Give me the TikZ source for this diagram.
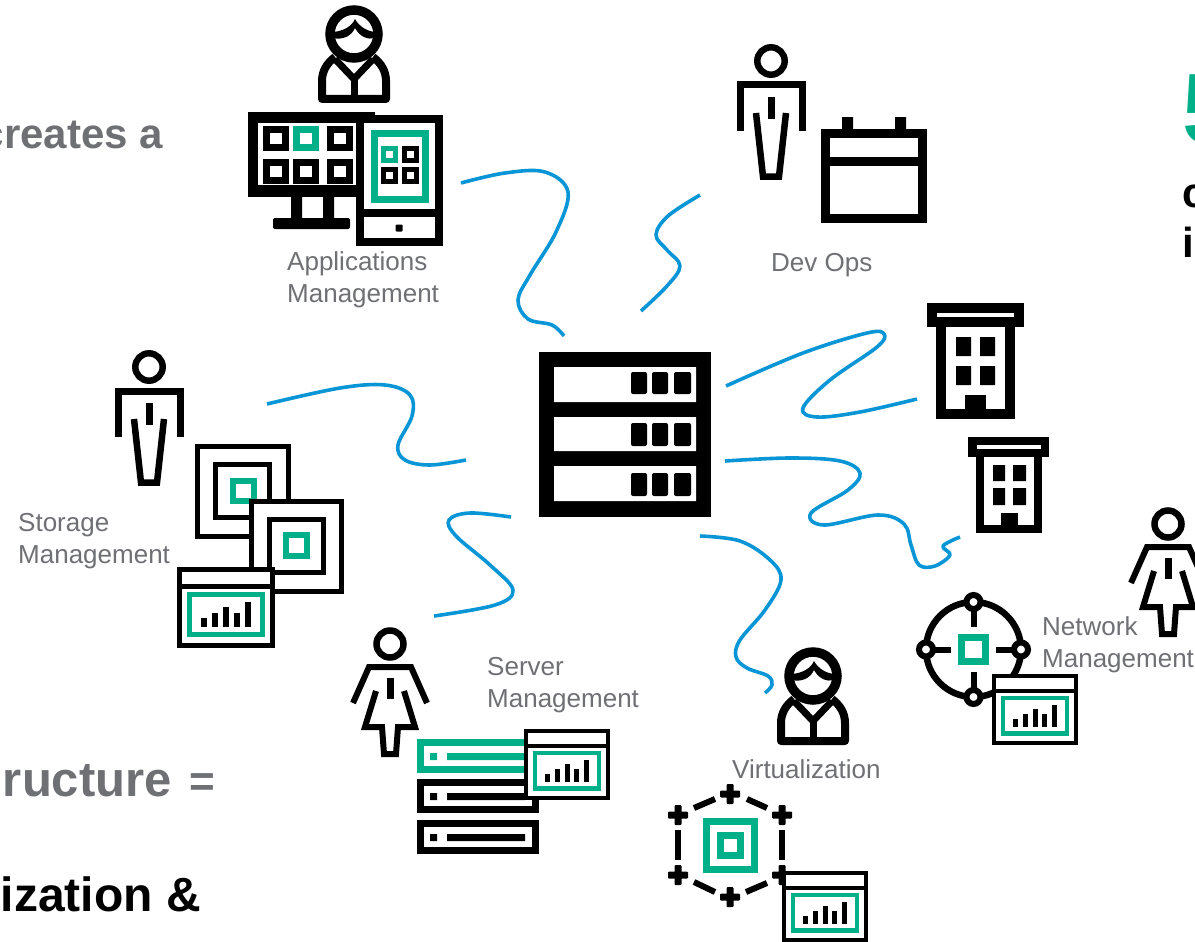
\documentclass[tikz,border=0pt]{standalone}
\usepackage{fontspec}
\setmainfont{Liberation Sans}
\definecolor{hpegreen}{HTML}{01B088}
\definecolor{wireblue}{HTML}{0A96D6}
\definecolor{labelgray}{HTML}{6F7074}
\tikzset{
  ink/.style={draw=black,line width=#1},
  ink/.default=7pt,
  gink/.style={draw=hpegreen,line width=#1},
  gink/.default=7pt,
  wire/.style={draw=wireblue,line width=3.6pt,line cap=butt,line join=round},
  lbl/.style={anchor=base west,inner sep=0pt,text=labelgray,align=left,font=\fontsize{26}{32}\selectfont},
  headg/.style={inner sep=0pt,text=labelgray,font=\fontsize{42}{49}\selectfont\bfseries},
  headk/.style={inner sep=0pt,text=black,font=\fontsize{42}{49}\selectfont\bfseries},
}
\newcommand{\manicon}[2]{\begin{scope}[shift={(#1,#2)}]
  \draw[ink=6.5pt] (0,0) circle (13.7);
  \draw[ink] (-31,70) -- (-31,24) -- (31,24) -- (31,70);
  \fill (-3.5,36) rectangle (3.5,58);
  \draw[ink=6.5pt,line join=miter] (-15,52) -- (-8,115.5) -- (8,115.5) -- (15,52);
\end{scope}}
\newcommand{\womanicon}[2]{\begin{scope}[shift={(#1,#2)}]
  \draw[ink=6.5pt] (0,0) circle (13.5);
  \draw[ink=6pt,line join=miter] (-37,59) -- (-21,23) -- (21,23) -- (37,59);
  \fill (-3.5,34) rectangle (3.5,55);
  \draw[ink=6pt,line join=miter] (-14,47) -- (-25,83) -- (-8,83) -- (-6,110) -- (6,110) -- (8,83) -- (25,83) -- (14,47);
\end{scope}}
\newcommand{\avataricon}[2]{\begin{scope}[shift={(#1,#2)}]
  \draw[ink=9.5pt] (0,0) circle (24);
  \fill (-21,-2) .. controls (-10,-3) and (-2,-8) .. (1,-15) .. controls (5,-8) and (12,-3) .. (21,-2)
        -- (21,4) .. controls (14,6) and (6,3) .. (1,-6) .. controls (-3,3) and (-12,6) .. (-21,4) -- cycle;
  \draw[ink=8pt,line join=round] (-19,23) .. controls (-27,29) and (-32,37) .. (-32,47) -- (-32,65) -- (32,65) -- (32,47) .. controls (32,37) and (27,29) .. (19,23);
  \draw[ink=7pt] (-19,25) -- (0,45) -- (19,25);
  \draw[ink=7pt] (0,45) -- (0,65);
\end{scope}}
\newcommand{\windowicon}[3]{\begin{scope}[shift={(#1,#2)},scale=#3]
  \draw[ink=#3*5pt,fill=white] (2.5,2.5) rectangle (95.5,78.5);
  \draw[ink=#3*5pt] (0,19) -- (98,19);
  \draw[gink=#3*5pt] (12.5,27.5) rectangle (85.5,67.5);
  \fill (24.2,51.3) rectangle (29.8,59.7);
  \fill (35.2,45.7) rectangle (40.8,59.7);
  \fill (46.2,40.3) rectangle (51.8,59.7);
  \fill (57.2,45.7) rectangle (62.8,59.7);
  \fill (68.2,35.3) rectangle (73.8,59.7);
\end{scope}}
\newcommand{\plusmark}[2]{\fill[rounded corners=1pt] (#1-10,#2-3.5) rectangle (#1+10,#2+3.5); \fill[rounded corners=1pt] (#1-3.5,#2-10) rectangle (#1+3.5,#2+10);}
\newcommand{\sq}[3]{\draw[#3] (#1,#2) rectangle ++(18.5,18);}
\begin{document}
\begin{tikzpicture}[x=1pt,y=-1pt]
\useasboundingbox (0,0) rectangle (1195,942);
\clip (0,0) rectangle (1195,942);
\fill[white] (0,0) rectangle (1195,942);

% ---------- connectors ----------
\coordinate (a0) at (461,183); \coordinate (a1) at (564,336);
\coordinate (d0) at (700,195); \coordinate (d1) at (641,311);
\coordinate (b0) at (726,386); \coordinate (b1) at (917,399);
\coordinate (c0) at (725,461); \coordinate (c1) at (960,537);
\coordinate (s0) at (267,404); \coordinate (s1) at (466,460);
\coordinate (v0) at (511,517); \coordinate (v1) at (434,616);
\coordinate (z0) at (700,536); \coordinate (z1) at (765,693);
\draw[wire] plot[smooth,tension=.6] coordinates {(a0) (505,173) (545,172) (568,192) (556,232) (530,275) (518,300) (528,319) (552,325) (a1)};
\draw[wire] plot[smooth,tension=.6] coordinates {(d0) (668,216) (656,235) (667,250) (680,266) (667,286) (d1)};
\draw[wire] plot[smooth,tension=.6] coordinates {(b0) (803,353) (867,333) (884,334) (877,347) (830,380) (803,408) (817,417) (860,412) (b1)};
\draw[wire] plot[smooth,tension=.6] coordinates {(c0) (790,458) (840,461) (860,473) (848,490) (811,513) (824,525) (878,515) (904,524) (911,545) (919,565) (935,566) (950,555) (943,546) (c1)};
\draw[wire] plot[smooth,tension=.6] coordinates {(s0) (340,388) (385,385) (410,395) (412,416) (398,445) (405,460) (430,465) (s1)};
\draw[wire] plot[smooth,tension=.6] coordinates {(v0) (470,513) (449,520) (456,536) (490,565) (513,590) (495,605) (v1)};
\draw[wire] plot[smooth,tension=.6] coordinates {(z0) (740,541) (770,560) (781,580) (765,610) (740,640) (736,657) (747,668) (768,676) (772,685) (z1)};

% ---------- central rack ----------
\node[fill=black,minimum width=172pt,minimum height=165pt,inner sep=0pt] (rack) at (625,434.5) {};
\fill[white] (554,367) rectangle (696,402) (554,417) rectangle (696,451) (554,466) rectangle (696,501);
\foreach \ya/\yb in {372/394,423/446,473/496}{
  \fill[rounded corners=2pt] (631,\ya) rectangle (647,\yb);
  \fill[rounded corners=2pt] (652,\ya) rectangle (668,\yb);
  \fill[rounded corners=2pt] (674,\ya) rectangle (691,\yb);
}

% ---------- applications ----------
\avataricon{354}{34}
\fill (248,112) rectangle (375,197);
\fill[white] (258,123) rectangle (356,185);
\sq{266.5}{129.5}{ink}
\sq{296.5}{129.5}{gink}
\sq{330.5}{129.5}{ink}
\sq{266.5}{162.5}{ink}
\sq{296.5}{162.5}{ink}
\sq{330.5}{162.5}{ink}
\fill (291,197) rectangle (302,218) (323,197) rectangle (334,218);
\fill[rounded corners=2pt] (273,218) rectangle (350,229);
\draw[ink=8pt,fill=white] (360,119) rectangle (439,242);
\draw[ink=8pt] (356,213) -- (443,213);
\draw[gink] (374.5,133.5) rectangle (425.5,199.5);
\draw[gink=5pt] (383.5,148.5) rectangle (395.5,160.5);
\draw[ink=5pt] (404.5,148.5) rectangle (416.5,160.5);
\draw[ink=5pt] (383.5,169.5) rectangle (395.5,181.5);
\draw[ink=5pt] (404.5,169.5) rectangle (416.5,181.5);
\fill[rounded corners=1pt] (395.5,224.5) rectangle (402.5,231.5);
\node[lbl] (lApps) at (287,302) {Applications\\Management};

% ---------- dev ops ----------
\manicon{771}{61}
\draw[ink=9pt] (825.5,133.5) rectangle (922.5,218.5);
\draw[ink=9pt] (821,161.5) -- (927,161.5);
\fill (842,117) rectangle (853,129) (895,117) rectangle (906,129);
\node[lbl] (lDev) at (771,271) {Dev Ops};

% ---------- buildings ----------
\fill (927,303) rectangle (1024,327);
\fill[white] (937,313) rectangle (1014,317);
\draw[ink=10pt] (941,327) -- (941,414) -- (1010,414) -- (1010,327);
\fill (956,337) rectangle (971,356) (980,337) rectangle (995,356);
\fill (956,366) rectangle (971,385) (980,366) rectangle (995,385);
\fill (965,395) rectangle (986,409);
\fill (968,437) rectangle (1049,457);
\fill[white] (977,445) rectangle (1041,449);
\draw[ink=8pt] (980,457) -- (980,529) -- (1038,529) -- (1038,457);
\fill (993,465) rectangle (1005,481) (1013,465) rectangle (1026,481);
\fill (993,488) rectangle (1005,505) (1013,488) rectangle (1026,505);
\fill (1001,513) rectangle (1018,525);

% ---------- storage ----------
\manicon{149}{367}
\draw[ink=5.5pt] (197.5,446.5) rectangle (288.5,536.5);
\draw[ink=5.5pt] (215.5,464.5) rectangle (269.5,517.5);
\draw[gink=6pt] (233,481) rectangle (254,501);
\draw[ink=5.5pt,fill=white] (251.5,501.5) rectangle (341.5,591.5);
\draw[ink=5.5pt] (269.5,519.5) rectangle (323.5,572.5);
\draw[gink=6pt] (286,535) rectangle (307,556);
\windowicon{177}{567}{1}
\node[lbl] (lStorage) at (18,563) {Storage\\Management};

% ---------- server ----------
\womanicon{390}{644}
\draw[gink] (420.5,742.5) rectangle (535.5,769.5);
\draw[ink] (420.5,782.5) rectangle (535.5,809.5);
\draw[ink] (420.5,823.5) rectangle (535.5,850.5);
\fill[hpegreen] (430,753) rectangle (437,760) (447,753) rectangle (525,760);
\fill (430,793) rectangle (437,800) (447,793) rectangle (525,800);
\fill (430,834) rectangle (437,841) (447,834) rectangle (525,841);
\windowicon{524}{729}{.88}
\node[lbl] (lServer) at (487,707) {Server\\Management};

% ---------- virtualization ----------
\avataricon{813}{676}
\plusmark{730}{794} \plusmark{678}{815} \plusmark{782}{815}
\plusmark{678}{875} \plusmark{782}{875} \plusmark{730}{897}
\draw[ink=6pt] (678,830) -- (678,860) (782,830) -- (782,860);
\draw[ink=6pt] (694,808) -- (715,799) (747,799) -- (767,808);
\draw[ink=6pt] (694,882) -- (715,892) (746,892) -- (767,883);
\draw[gink] (706.5,821.5) rectangle (754.5,869.5);
\draw[gink] (720.5,835.5) rectangle (740.5,855.5);
\windowicon{782}{871}{.88}
\node[lbl] (lVirt) at (732,778) {Virtualization};

% ---------- network ----------
\womanicon{1168}{524}
\draw[ink=6.5pt] (973.5,649.5) circle (47.5);
\draw[ink=6pt] (973.5,611) -- (973.5,627) (973.5,672) -- (973.5,688);
\draw[ink=6pt] (935,649.5) -- (951,649.5) (996,649.5) -- (1012,649.5);
\foreach \px/\py in {973.5/602,973.5/697,926/649.5,1021/649.5}{
  \draw[ink=6pt,fill=white] (\px,\py) circle (7);
}
\draw[gink] (961.5,637.5) rectangle (985.5,661.5);
\windowicon{992}{674}{.88}
\node[lbl] (lNet) at (1042,667) {Network\\Management};

% ---------- clipped page text ----------
\node[headg,anchor=base east] (tCreates) at (163,148) {creates a};
\node[headk,anchor=base east] (tN) at (2,250) {n};
\node[inner sep=0pt,text=labelgray,anchor=base east,font=\fontsize{49}{50}\selectfont\bfseries] (tStruct) at (172,796) {ructure};
\node[inner sep=0pt,text=labelgray,anchor=base east,font=\fontsize{44}{50}\selectfont\bfseries] (tEq) at (215,796) {=};
\node[inner sep=0pt,text=black,anchor=base east,font=\fontsize{48}{50}\selectfont\bfseries] (tIzation) at (201,911) {ization \&};
\node[inner sep=0pt,text=hpegreen,anchor=base west,font=\fontsize{100}{100}\selectfont\bfseries] (tFive) at (1182,143) {5};
\node[headk,anchor=base west] (tC) at (1182,207) {c};
\node[headk,anchor=base west] (tI) at (1182,257) {i};
\end{tikzpicture}
\end{document}
